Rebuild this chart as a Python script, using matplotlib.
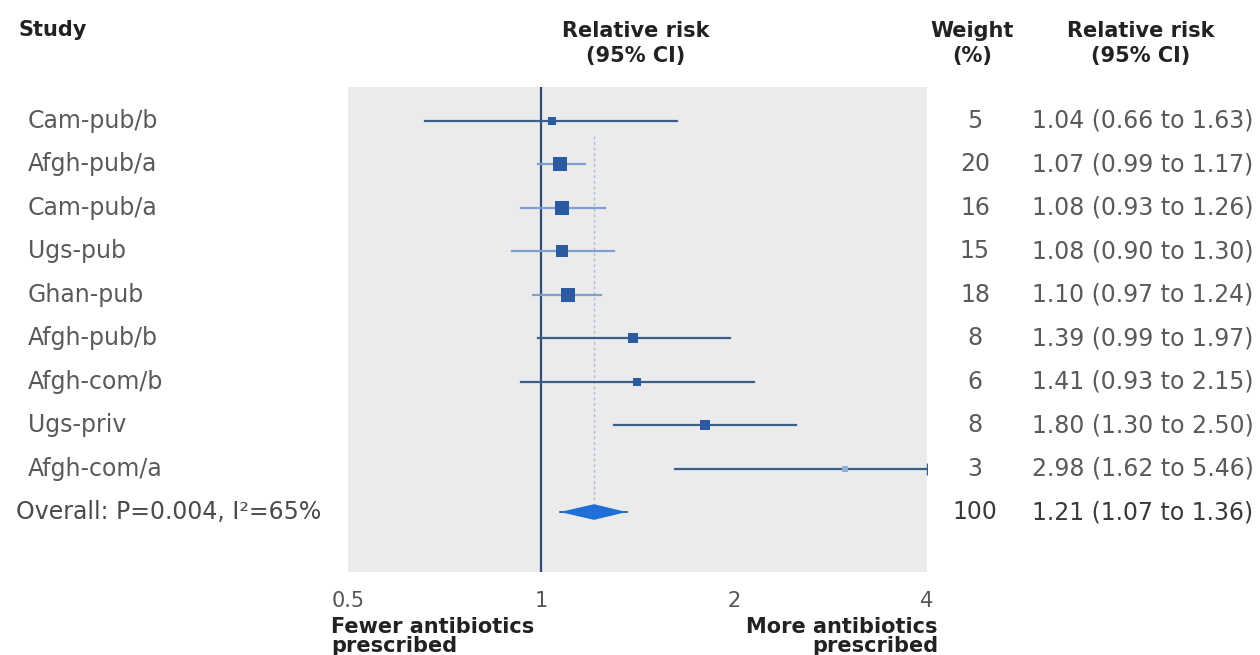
import numpy as np
import matplotlib
matplotlib.use("Agg")
import matplotlib.pyplot as plt
import matplotlib.transforms as mtransforms

studies = ["Cam-pub/b", "Afgh-pub/a", "Cam-pub/a", "Ugs-pub", "Ghan-pub",
           "Afgh-pub/b", "Afgh-com/b", "Ugs-priv", "Afgh-com/a"]
rr = [1.04, 1.07, 1.08, 1.08, 1.10, 1.39, 1.41, 1.80, 2.98]
lo = [0.66, 0.99, 0.93, 0.90, 0.97, 0.99, 0.93, 1.30, 1.62]
hi = [1.63, 1.17, 1.26, 1.30, 1.24, 1.97, 2.15, 2.50, 5.46]
weights = [5, 20, 16, 15, 18, 8, 6, 8, 3]

overall_label = "Overall: P=0.004, I²=65%"
overall_rr, overall_lo, overall_hi, overall_w = 1.21, 1.07, 1.36, 100

xticks = [0.5, 1, 2, 4]
xticklabels = ["0.5", "1", "2", "4"]

plt.rcParams['font.family'] = ['DejaVu Sans']

fig = plt.figure(figsize=(12.6, 6.55), dpi=100)
ax = fig.add_axes([348 / 1260, 1 - 572 / 655, 579 / 1260, 485 / 655])
ax.set_facecolor("#ebebeb")
ax.set_xscale("log")
ax.set_xlim(0.5, 4)
n = len(studies)
ax.set_ylim(n + 1.38, -0.78)
for s in ax.spines.values():
    s.set_visible(False)
ax.set_yticks([])
ax.set_xticks(xticks)
ax.set_xticklabels(xticklabels, fontsize=15, color="#555555")
ax.minorticks_off()
ax.tick_params(axis="x", length=0, pad=14)

# line of no effect and overall estimate
ax.axvline(1, color="#2f4d70", lw=1.6, zorder=3)
ax.plot([overall_rr, overall_rr], [0.35, n - 0.2], color="#a9bbd0", lw=1.0,
        ls=(0, (2, 2)), zorder=2)

for i in range(n):
    light = weights[i] >= 15
    lc = "#7e9fd0" if light else "#3c5f8a"
    right = min(hi[i], 4)
    ax.plot([lo[i], right], [i, i], color=lc, lw=1.6, zorder=4)
    if hi[i] > 4:
        ax.plot([right], [i], marker="|", markersize=9, color=lc, zorder=4)
    size = 3.3 * np.sqrt(weights[i]) * 0.72
    mc = "#8fb0d8" if weights[i] < 4 else "#2c5aa0"
    ax.plot([rr[i]], [i], marker="s", markersize=size, color=mc,
            markeredgewidth=0, zorder=5)

# overall diamond
dh = 0.18
ax.plot([overall_lo, overall_hi], [n, n], color="#1f4f8f", lw=1.2, zorder=5)
ax.fill([overall_lo, overall_rr, overall_hi, overall_rr],
        [n, n - dh, n, n + dh], color="#1f6fd6", zorder=6, lw=0)

# text columns
fs = 17
trans = mtransforms.blended_transform_factory(fig.transFigure, ax.transData)
for i in range(n):
    ax.text(28 / 1260, i, studies[i], transform=trans, fontsize=fs,
            color="#5a5a5a", va="center", ha="left")
    ax.text(975 / 1260, i, str(weights[i]), transform=trans, fontsize=fs,
            color="#5a5a5a", va="center", ha="center")
    ax.text(1032 / 1260, i, "%.2f (%.2f to %.2f)" % (rr[i], lo[i], hi[i]),
            transform=trans, fontsize=fs, color="#5a5a5a", va="center", ha="left")
ax.text(16 / 1260, n, overall_label, transform=trans, fontsize=fs,
        color="#4a4a4a", va="center", ha="left")
ax.text(975 / 1260, n, str(overall_w), transform=trans, fontsize=fs,
        color="#3a3a3a", va="center", ha="center")
ax.text(1032 / 1260, n, "%.2f (%.2f to %.2f)" % (overall_rr, overall_lo, overall_hi),
        transform=trans, fontsize=fs, color="#3a3a3a", va="center", ha="left")

# headers
hdr = dict(fontsize=15, fontweight="bold", color="#222222", va="center")
fig.text(18 / 1260, 1 - 30 / 655, "Study", ha="left", **hdr)
for xc, l1, l2 in [(636, "Relative risk", "(95% CI)"),
                   (972, "Weight", "(%)"),
                   (1141, "Relative risk", "(95% CI)")]:
    fig.text(xc / 1260, 1 - 31 / 655, l1, ha="center", **hdr)
    fig.text(xc / 1260, 1 - 56 / 655, l2, ha="center", **hdr)

fig.text(331 / 1260, 1 - 627 / 655, "Fewer antibiotics", ha="left", **hdr)
fig.text(331 / 1260, 1 - 646 / 655, "prescribed", ha="left", **hdr)
fig.text(938 / 1260, 1 - 627 / 655, "More antibiotics", ha="right", **hdr)
fig.text(938 / 1260, 1 - 646 / 655, "prescribed", ha="right", **hdr)

fig.savefig("out.png", dpi=100, facecolor="white")
